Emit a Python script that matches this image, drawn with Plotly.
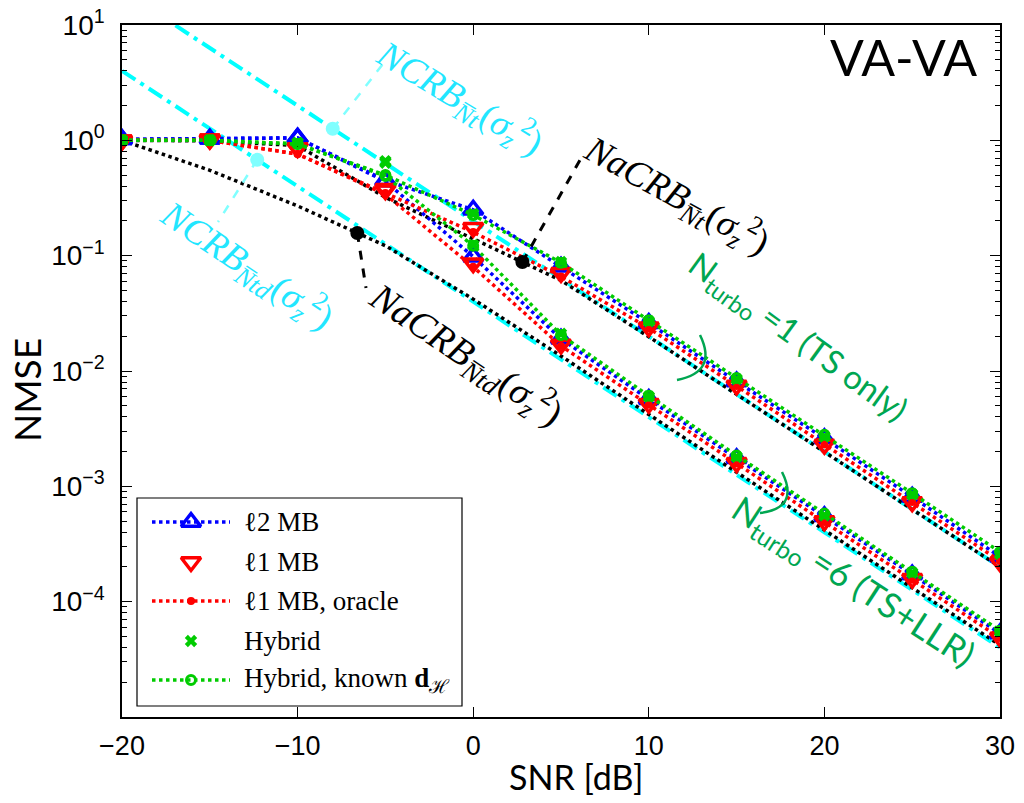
import numpy as np
import plotly.graph_objects as go

# ---------------- data ----------------
snr = [-20, -15, -10, -5, 0, 5, 10, 15, 20, 25, 30]

# N_turbo = 1 (TS only)  -> "_t1";  N_turbo = 6 (TS+LLR) -> "_t6"
l2mb_t1 = [1.02, 1.03, 1.05, 0.45, 0.25, 0.080, 0.026, 0.0081, 0.0026, 8.1e-4, 2.45e-4]
l2mb_t6 = [1.02, 1.03, 1.05, 0.44, 0.098, 0.019, 0.0057, 1.75e-3, 5.5e-4, 1.72e-4, 5.3e-5]

l1mb_t1 = [1.00, 1.02, 0.86, 0.38, 0.175, 0.071, 0.024, 0.0075, 0.0023, 7.3e-4, 2.2e-4]
l1mb_t6 = [1.00, 1.02, 0.86, 0.37, 0.086, 0.017, 0.0052, 1.6e-3, 5.0e-4, 1.58e-4, 4.9e-5]

l1or_t1 = [1.00, 1.00, 0.76, 0.35, 0.16, 0.066, 0.0235, 0.0074, 0.0023, 7.3e-4, 2.25e-4]
l1or_t6 = [1.00, 1.00, 0.76, 0.34, 0.080, 0.0165, 0.0051, 1.58e-3, 4.9e-4, 1.55e-4, 4.85e-5]

hyb_t1 = [1.00, 1.00, 0.95, 0.66, 0.23, 0.088, 0.027, 0.0085, 0.0027, 8.5e-4, 2.6e-4]
hyb_t6 = [1.00, 1.00, 0.95, 0.64, 0.124, 0.021, 0.0060, 1.8e-3, 5.6e-4, 1.78e-4, 5.5e-5]

hybk_t1 = [1.00, 1.00, 0.93, 0.50, 0.225, 0.087, 0.0275, 0.0087, 0.0028, 8.7e-4, 2.7e-4]
hybk_t6 = [1.00, 1.00, 0.93, 0.49, 0.122, 0.0205, 0.0061, 1.85e-3, 5.8e-4, 1.82e-4, 5.6e-5]

nacrb_t = [1.00, 0.99, 0.90, 0.32, 0.14, 0.061, 0.0198, 0.0063, 0.0020, 6.3e-4, 2.0e-4]
nacrb_td = [1.00, 0.55, 0.27, 0.122, 0.042, 0.0135, 0.0042, 1.32e-3, 4.2e-4, 1.32e-4, 4.2e-5]

ncrb_t = [20.0, 6.3, 2.0, 0.63, 0.20, 0.063, 0.020, 0.0063, 0.0020, 6.3e-4, 2.0e-4]
ncrb_td = [4.0, 1.26, 0.40, 0.126, 0.040, 0.0126, 0.0040, 1.26e-3, 4.0e-4, 1.26e-4, 4.0e-5]

# label pointer positions (SNR of the dot on each bound curve)
ptr_ncrb_t_snr = -8.0
ptr_ncrb_td_snr = -12.3
ptr_nacrb_t_snr = 2.8
ptr_nacrb_td_snr = -6.6

legend_labels = ["\u21132 MB", "\u21131 MB", "\u21131 MB, oracle", "Hybrid",
                 "Hybrid, known <b>d</b><sub>\u210b</sub>"]

x_ticks = [-20, -10, 0, 10, 20, 30]
x_ticktext = ["\u221220", "\u221210", "0", "10", "20", "30"]
y_ticks = [10.0, 1.0, 0.1, 0.01, 0.001, 0.0001]
y_ticktext = ["10<sup>1</sup>", "10<sup>0</sup>", "10<sup>\u22121</sup>",
              "10<sup>\u22122</sup>", "10<sup>\u22123</sup>", "10<sup>\u22124</sup>"]

# ---------------- layout geometry ----------------
W, H = 1024, 803
ML, MR, MT, MB = 122, 24, 25, 86
PW, PH = W - ML - MR, H - MT - MB


def paper(px, py):
    return (px - ML) / PW, (H - MB - py) / PH


def pix2data(px, py):
    s = -20 + (px - ML) / PW * 50
    v = 10 ** (1 - (py - MT) / PH * 6)
    return s, v


def both(a, b):
    return snr + [None] + snr, list(a) + [None] + list(b)


def on_curve(s, curve):
    return float(10 ** np.interp(s, snr, np.log10(curve)))


BLUE, RED, GREEN, CYAN = "#0000ff", "#ff0000", "#00cc00", "#00ffff"
TXT_GREEN = "#00a651"
TXT_CYAN = "#22e6ff"
SERIF = "Liberation Serif, DejaVu Serif, serif"
SANS2 = "Lato, Open Sans, sans-serif"
TICKF = "Liberation Sans, Arial, sans-serif"

# series styles (line, marker)
styles = [
    dict(mode="lines+markers", line=dict(color=BLUE, width=3.5, dash="dot"),
         marker=dict(symbol="triangle-up-open", size=17, color=BLUE, line=dict(width=3.5, color=BLUE))),
    dict(mode="markers",
         marker=dict(symbol="triangle-down-open", size=17, color=RED, line=dict(width=3.5, color=RED))),
    dict(mode="lines+markers", line=dict(color=RED, width=3.5, dash="dot"),
         marker=dict(symbol="circle", size=8, color=RED)),
    dict(mode="markers",
         marker=dict(symbol="x", size=11, color=GREEN, line=dict(width=0))),
    dict(mode="lines+markers", line=dict(color=GREEN, width=3.5, dash="dot"),
         marker=dict(symbol="circle-open", size=9, color=GREEN, line=dict(width=3, color=GREEN))),
]
series = [(l2mb_t1, l2mb_t6), (l1mb_t1, l1mb_t6), (l1or_t1, l1or_t6),
          (hyb_t1, hyb_t6), (hybk_t1, hybk_t6)]

fig = go.Figure()

# NCRB (cyan dash-dot)
for c in (ncrb_t, ncrb_td):
    fig.add_trace(go.Scatter(x=snr, y=c, mode="lines", showlegend=False,
                             line=dict(color=CYAN, width=4, dash="16px,6px,4px,6px")))
# NaCRB (black dotted)
for c in (nacrb_t, nacrb_td):
    fig.add_trace(go.Scatter(x=snr, y=c, mode="lines", showlegend=False,
                             line=dict(color="black", width=3.5, dash="dot")))

# draw order: blue, red triangles, red oracle, green known, green x
for idx in [0, 1, 2, 4, 3]:
    x, y = both(*series[idx])
    fig.add_trace(go.Scatter(x=x, y=y, name=legend_labels[idx], showlegend=False,
                             **styles[idx]))

# ---------------- pointer lines and dots ----------------
pointers = [
    (ptr_ncrb_t_snr, ncrb_t, (386, 60), "#80ffff"),
    (ptr_ncrb_td_snr, ncrb_td, (218, 222), "#80ffff"),
    (ptr_nacrb_t_snr, nacrb_t, (580, 160), "black"),
    (ptr_nacrb_td_snr, nacrb_td, (366, 288), "black"),
]
for s, curve, end, col in pointers:
    v = on_curve(s, curve)
    es, ev = pix2data(*end)
    fig.add_trace(go.Scatter(x=[s, es], y=[v, ev], mode="lines", showlegend=False,
                             line=dict(color=col, width=3 if col == "black" else 2.5, dash="dash")))
    fig.add_trace(go.Scatter(x=[s], y=[v], mode="markers", showlegend=False,
                             marker=dict(symbol="circle", size=14, color=col)))

# ---------------- legend (drawn in an overlay paper-like axis) ----------------
LEG_BOX = (137, 498, 462, 706)
LEG_ROWS = [522, 562, 601, 641, 680]
LEG_X0, LEG_X1, LEG_TXT = 152, 230, 242

ann = []
shapes = [dict(type="rect", xref="paper", yref="paper", layer="below",
               x0=paper(LEG_BOX[0], 0)[0], x1=paper(LEG_BOX[2], 0)[0],
               y0=paper(0, LEG_BOX[3])[1], y1=paper(0, LEG_BOX[1])[1],
               fillcolor="white", line=dict(color="black", width=1.2))]
for i, st in enumerate(styles):
    xa, ya = paper(LEG_X0, LEG_ROWS[i])
    xb, _ = paper(LEG_X1, LEG_ROWS[i])
    xm = (xa + xb) / 2
    if "lines" in st["mode"]:
        fig.add_trace(go.Scatter(x=[xa, xb], y=[ya, ya], mode="lines", xaxis="x2", yaxis="y2",
                                 showlegend=False, hoverinfo="skip", line=st["line"]))
    fig.add_trace(go.Scatter(x=[xm], y=[ya], mode="markers", xaxis="x2", yaxis="y2",
                             showlegend=False, hoverinfo="skip", marker=st["marker"]))
    tx, ty = paper(LEG_TXT, LEG_ROWS[i])
    ann.append(dict(x=tx, y=ty, xref="paper", yref="paper", text=legend_labels[i],
                    showarrow=False, xanchor="left", yanchor="middle",
                    font=dict(family=SERIF, size=27, color="black")))


# ---------------- annotations ----------------
def add_text(px, py, text, color, size, family, angle):
    xp, yp = paper(px, py)
    ann.append(dict(x=xp, y=yp, xref="paper", yref="paper", text=text, showarrow=False,
                    xanchor="center", yanchor="middle", textangle=angle,
                    font=dict(color=color, size=size, family=family)))


add_text(903, 57, "VA-VA", "black", 50, SANS2, 0)
add_text(576, 777, "SNR [dB]", "black", 34, SANS2, 0)
add_text(26, 390, "NMSE", "black", 37, SANS2, -90)
add_text(460, 98, "<i>NCRB</i><sub><i>N\u0305t</i></sub>(<i>\u03c3</i><sub><i>z</i></sub><sup>2</sup>)",
         TXT_CYAN, 37, SERIF, 31)
add_text(247, 265, "<i>NCRB</i><sub><i>N\u0305td</i></sub>(<i>\u03c3</i><sub><i>z</i></sub><sup>2</sup>)",
         TXT_CYAN, 37, SERIF, 34)
add_text(677, 195, "<i>NaCRB</i><sub><i>N\u0305t</i></sub>(<i>\u03c3</i><sub><i>z</i></sub><sup>2</sup>)",
         "black", 37, SERIF, 29)
add_text(466, 354, "<i>NaCRB</i><sub><i>N\u0305td</i></sub>(<i>\u03c3</i><sub><i>z</i></sub><sup>2</sup>)",
         "black", 38, SERIF, 34)
add_text(797, 338, "N<sub>turbo</sub> =1 (TS only)", TXT_GREEN, 33, SANS2, 36)
add_text(853, 582, "N<sub>turbo</sub> =6 (TS+LLR)", TXT_GREEN, 35, SANS2, 33)

for (p0, pc, p1) in [((700, 335), (718, 372), (677, 380)),
                     ((782, 472), (800, 508), (760, 513))]:
    a = paper(*p0)
    c = paper(*pc)
    b = paper(*p1)
    shapes.append(dict(type="path", xref="paper", yref="paper",
                       path=f"M {a[0]},{a[1]} Q {c[0]},{c[1]} {b[0]},{b[1]}",
                       line=dict(color=TXT_GREEN, width=2.5)))

minor_vals = [k * 10.0 ** e for e in range(-5, 1) for k in range(2, 10)]

fig.update_layout(
    width=W, height=H,
    margin=dict(l=ML, r=MR, t=MT, b=MB, autoexpand=False),
    paper_bgcolor="white", plot_bgcolor="white",
    annotations=ann, shapes=shapes, showlegend=False,
    xaxis=dict(range=[-20, 30], tickvals=x_ticks, ticktext=x_ticktext,
               ticks="inside", ticklen=10, tickwidth=1.2, tickcolor="black",
               showline=True, linecolor="black", linewidth=1.5, mirror="ticks",
               showgrid=False, zeroline=False, ticklabelstandoff=4,
               tickfont=dict(family=TICKF, size=27, color="black")),
    yaxis=dict(type="log", range=[-5, 1], tickvals=y_ticks, ticktext=y_ticktext,
               ticks="inside", ticklen=10, tickwidth=1.2, tickcolor="black",
               showline=True, linecolor="black", linewidth=1.5, mirror="ticks",
               showgrid=False, zeroline=False, ticklabelstandoff=10,
               minor=dict(tickvals=minor_vals, ticks="inside", ticklen=5,
                          tickcolor="black", tickwidth=1, showgrid=False),
               tickfont=dict(family=TICKF, size=28, color="black")),
    xaxis2=dict(overlaying="x", range=[0, 1], visible=False, fixedrange=True),
    yaxis2=dict(overlaying="y", range=[0, 1], visible=False, fixedrange=True),
)

fig.write_html("out.html")
